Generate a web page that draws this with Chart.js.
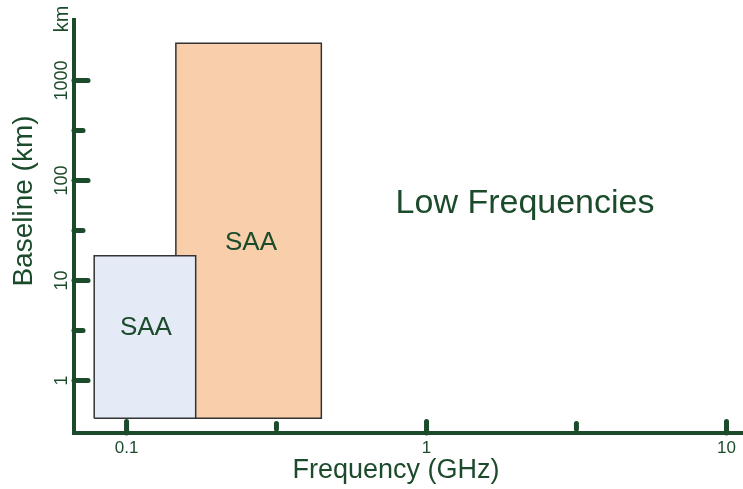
<!DOCTYPE html>
<html lang="en">
<head>
    <meta charset="UTF-8">
    <title>Low Frequencies - SAA</title>
    <script src="https://cdn.jsdelivr.net/npm/chart.js@4/dist/chart.umd.min.js"></script>
    <style>
        body { margin: 0; background: #fff; }
        canvas { display: block; }
    </style>
</head>
<body>
    <canvas id="bandChart" width="743" height="489"></canvas>

    <script>
        // band rectangles (frequency in GHz, baseline in km)
        const bandLabels = ['SAA', 'SAA'];
        const freqMin = [0.078, 0.146];
        const freqMax = [0.17, 0.446];
        const baseMin = [0.42, 0.42];
        const baseMax = [17.7, 2355];
        const bandFills = ['#e4ebf6', '#f9cfab'];

        // where the band names sit (data coords, text baseline)
        const labelFreq = [0.116, 0.26];
        const labelBase = [2.85, 20.2];

        // axis ticks
        const xMajorTicks = [0.1, 1, 10];
        const xMinorTicks = [0.316, 3.16];
        const yMajorTicks = [1, 10, 100, 1000];
        const yMinorTicks = [3.16, 31.6, 316];

        const green = '#1b4b2b';
        const font = '"Liberation Sans", Arial, sans-serif';

        const datasets = bandLabels.map((name, i) => ({
            label: name,
            data: [
                { x: freqMin[i], y: baseMin[i] },
                { x: freqMin[i], y: baseMax[i] },
                { x: freqMax[i], y: baseMax[i] },
                { x: freqMax[i], y: baseMin[i] },
                { x: freqMin[i], y: baseMin[i] }
            ],
            showLine: true,
            fill: 'shape',
            tension: 0,
            pointRadius: 0,
            borderColor: '#333333',
            borderWidth: 1.5,
            backgroundColor: bandFills[i]
        }));

        const axesPlugin = {
            id: 'axesPlugin',
            afterDatasetsDraw(chart) {
                const { ctx, chartArea } = chart;
                const xs = chart.scales.x, ys = chart.scales.y;
                ctx.save();

                // band names + free text
                ctx.fillStyle = green;
                ctx.textAlign = 'center';
                ctx.textBaseline = 'alphabetic';
                ctx.font = '26px ' + font;
                bandLabels.forEach((name, i) => {
                    ctx.fillText(name, xs.getPixelForValue(labelFreq[i]), ys.getPixelForValue(labelBase[i]));
                });
                ctx.font = '34px ' + font;
                ctx.fillText('Low Frequencies', xs.getPixelForValue(2.13), ys.getPixelForValue(47.3));

                // axis lines
                ctx.strokeStyle = green;
                ctx.lineWidth = 4;
                ctx.lineCap = 'butt';
                ctx.beginPath();
                ctx.moveTo(chartArea.left, chartArea.top);
                ctx.lineTo(chartArea.left, chartArea.bottom + 2);
                ctx.moveTo(chartArea.left - 2, chartArea.bottom);
                ctx.lineTo(chartArea.right, chartArea.bottom);
                ctx.stroke();

                // ticks
                ctx.lineWidth = 5;
                ctx.lineCap = 'round';
                const tick = (x1, y1, x2, y2) => {
                    ctx.beginPath();
                    ctx.moveTo(x1, y1);
                    ctx.lineTo(x2, y2);
                    ctx.stroke();
                };
                xMajorTicks.forEach(v => {
                    const px = xs.getPixelForValue(v);
                    tick(px, chartArea.bottom, px, chartArea.bottom - 11.5);
                });
                xMinorTicks.forEach(v => {
                    const px = xs.getPixelForValue(v);
                    tick(px, chartArea.bottom - 4, px, chartArea.bottom - 9.5);
                });
                yMajorTicks.forEach(v => {
                    const py = ys.getPixelForValue(v);
                    tick(chartArea.left, py, chartArea.left + 14, py);
                });
                yMinorTicks.forEach(v => {
                    const py = ys.getPixelForValue(v);
                    tick(chartArea.left, py, chartArea.left + 9, py);
                });

                // x tick labels
                ctx.font = '17px ' + font;
                ctx.textAlign = 'center';
                xMajorTicks.forEach(v => {
                    ctx.fillText(String(v), xs.getPixelForValue(v), 453);
                });
                // x title
                ctx.font = '27px ' + font;
                ctx.fillText('Frequency (GHz)', 396, 478);

                // rotated y labels
                const vText = (text, x, y, size) => {
                    ctx.save();
                    ctx.translate(x, y);
                    ctx.rotate(-Math.PI / 2);
                    ctx.font = size + 'px ' + font;
                    ctx.textAlign = 'center';
                    ctx.fillText(text, 0, 0);
                    ctx.restore();
                };
                yMajorTicks.forEach(v => {
                    vText(String(v), 67, ys.getPixelForValue(v), 18);
                });
                vText('km', 68, 19, 20);
                vText('Baseline (km)', 32, 201, 28);

                ctx.restore();
            }
        };

        new Chart('bandChart', {
            type: 'scatter',
            data: { datasets },
            options: {
                responsive: false,
                animation: false,
                layout: { padding: { left: 74, top: 18, right: 0, bottom: 56 } },
                plugins: {
                    legend: { display: false },
                    tooltip: { enabled: false }
                },
                scales: {
                    x: { type: 'logarithmic', min: 0.0668, max: 11.35, display: false },
                    y: { type: 'logarithmic', min: 0.2985, max: 4217, display: false }
                }
            },
            plugins: [axesPlugin]
        });
    </script>
</body>
</html>
